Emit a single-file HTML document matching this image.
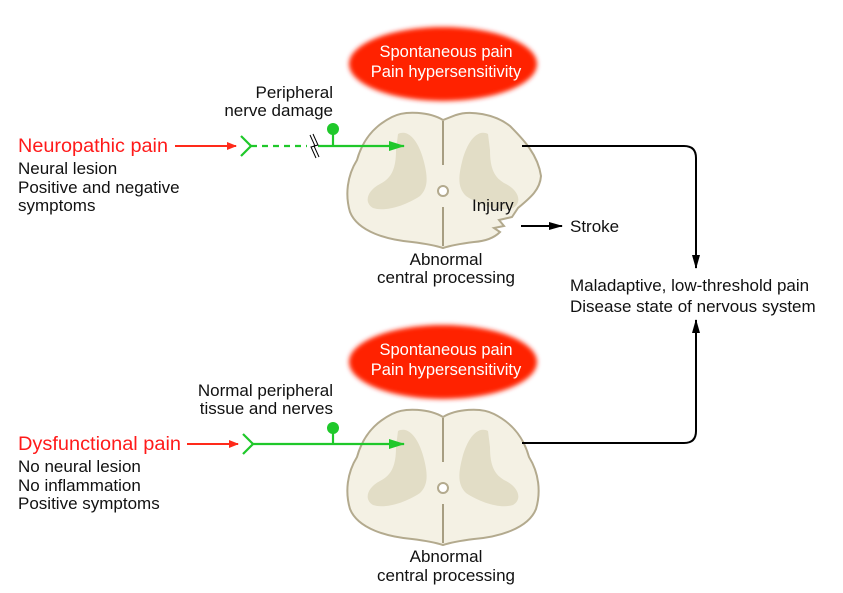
<!DOCTYPE html>
<html><head><meta charset="utf-8"><style>
html,body{margin:0;padding:0;background:#fff;}
svg{display:block;font-family:"Liberation Sans",Arial,sans-serif;}
</style></head><body>
<svg width="843" height="593" viewBox="0 0 843 593" xmlns="http://www.w3.org/2000/svg">
<defs>
<filter id="blur" x="-20%" y="-30%" width="140%" height="160%"><feGaussianBlur stdDeviation="2.5"/></filter>
<marker id="ar" markerWidth="10" markerHeight="8" refX="9" refY="4" orient="auto" markerUnits="userSpaceOnUse"><path d="M0,0 L10,4 L0,8 Z" fill="#ff2a1a"/></marker>
<marker id="ag" markerWidth="16" markerHeight="10" refX="15" refY="5" orient="auto" markerUnits="userSpaceOnUse"><path d="M0,0 L16,5 L0,10 Z" fill="#1fc82a"/></marker>
<marker id="ab" markerWidth="14" markerHeight="8" refX="13" refY="4" orient="auto" markerUnits="userSpaceOnUse"><path d="M0,0 L14,4 L0,8 Z" fill="#000"/></marker>
<g id="inner">
<path d="M398,134 C410,128 420,145 424,162 C428,178 428,188 420,196 C405,206 385,212 373,208 C363,202 368,190 380,184 C392,178 396,168 396,150 Z" fill="#e2ddc6"/>
<path d="M488,134 C476,128 466,145 462,162 C458,178 458,188 466,196 C481,206 501,212 513,208 C523,202 518,190 506,184 C494,178 490,168 490,150 Z" fill="#e2ddc6"/>
<path d="M443,121 L443,165 M443,207 L443,246" stroke="#a79e82" stroke-width="2" fill="none"/>
<circle cx="443" cy="191" r="5" fill="#fff" stroke="#b3aa8e" stroke-width="2"/>
</g>
</defs>

<ellipse cx="443" cy="64" rx="94" ry="37" fill="#ff2200" filter="url(#blur)"/>
<ellipse cx="443" cy="362" rx="94" ry="37" fill="#ff2200" filter="url(#blur)"/>
<g fill="#fff" font-size="16.5" text-anchor="middle">
<text x="446" y="57">Spontaneous pain</text><text x="446" y="77">Pain hypersensitivity</text>
<text x="446" y="355">Spontaneous pain</text><text x="446" y="375">Pain hypersensitivity</text>
</g>

<path d="M443,120 C430,112 405,110 392,117 C372,127 362,142 357,160 C347,176 345,195 350,212 C358,232 388,240 412,242 C428,244 437,246 443,248 C449,246 458,244 474,242 C488,241 496,236 500,232 L494,228 L504,226 L499,220 L512,217 L518,208 C530,198 540,190 541,176 C538,155 524,140 510,126 C495,114 470,110 456,115 Z" fill="#f4f1e4" stroke="#b3aa8e" stroke-width="2"/>
<use href="#inner"/>
<path d="M443,417 C430,409 405,407 392,414 C372,424 362,439 357,457 C347,473 345,492 350,509 C358,529 388,537 412,539 C428,541 437,543 443,545 C449,543 458,541 474,539 C498,537 528,529 536,509 C541,492 539,473 529,457 C524,439 514,424 494,414 C481,407 456,409 443,417 Z" fill="#f4f1e4" stroke="#b3aa8e" stroke-width="2"/>
<use href="#inner" transform="translate(0,297)"/>

<path d="M522,146 L684,146 Q696,146 696,158 L696,268" fill="none" stroke="#000" stroke-width="2" marker-end="url(#ab)"/>
<path d="M522,443 L684,443 Q696,443 696,431 L696,320" fill="none" stroke="#000" stroke-width="2" marker-end="url(#ab)"/>
<line x1="521" y1="226" x2="562" y2="226" stroke="#000" stroke-width="2" marker-end="url(#ab)"/>

<line x1="175" y1="146" x2="236" y2="146" stroke="#ff2a1a" stroke-width="2" marker-end="url(#ar)"/>
<line x1="187" y1="444" x2="238" y2="444" stroke="#ff2a1a" stroke-width="2" marker-end="url(#ar)"/>

<g stroke="#1fc82a" stroke-width="2.2" fill="none">
<path d="M241,136 L251,146 L241,156"/>
<line x1="251" y1="146" x2="307" y2="146" stroke-dasharray="6,5"/>
<line x1="318" y1="146" x2="404" y2="146" marker-end="url(#ag)"/>
<line x1="333" y1="132" x2="333" y2="146"/>
<path d="M243,434 L253,444 L243,454"/>
<line x1="253" y1="444" x2="404" y2="444" marker-end="url(#ag)"/>
<line x1="333" y1="430" x2="333" y2="444"/>
</g>
<circle cx="333" cy="129" r="6" fill="#1fc82a"/>
<circle cx="333" cy="428" r="6" fill="#1fc82a"/>
<path d="M310,135 L315,146 L311,147 L316,158 M313,134 L318,145 L314,146 L319,157" stroke="#000" stroke-width="1" fill="none"/>

<g font-size="19" fill="#ff1a1a">
<text x="18" y="152" textLength="150" lengthAdjust="spacingAndGlyphs">Neuropathic pain</text>
<text x="18" y="450" textLength="163" lengthAdjust="spacingAndGlyphs">Dysfunctional pain</text>
</g>
<g font-size="17" fill="#111">
<text x="18" y="174">Neural lesion</text>
<text x="18" y="193">Positive and negative</text>
<text x="18" y="211">symptoms</text>
<text x="18" y="472">No neural lesion</text>
<text x="18" y="491">No inflammation</text>
<text x="18" y="509">Positive symptoms</text>
<g text-anchor="end">
<text x="333" y="98">Peripheral</text>
<text x="333" y="116">nerve damage</text>
<text x="333" y="396">Normal peripheral</text>
<text x="333" y="414">tissue and nerves</text>
</g>
<g text-anchor="middle">
<text x="446" y="265">Abnormal</text>
<text x="446" y="283">central processing</text>
<text x="446" y="562">Abnormal</text>
<text x="446" y="581">central processing</text>
</g>
<text x="472" y="211">Injury</text>
<text x="570" y="232">Stroke</text>
<text x="570" y="291">Maladaptive, low-threshold pain</text>
<text x="570" y="312">Disease state of nervous system</text>
</g>
</svg>
</body></html>
